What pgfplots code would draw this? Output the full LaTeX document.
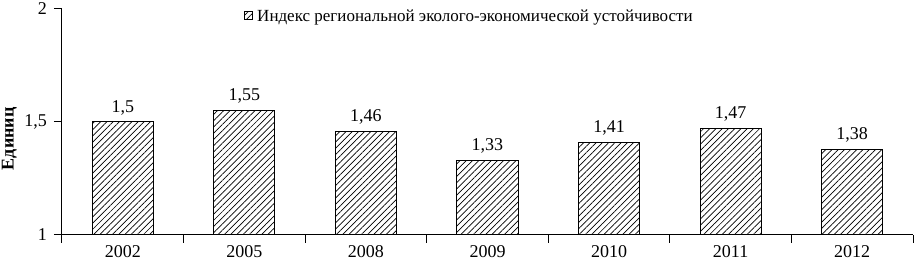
\documentclass[border=0pt]{standalone}
\usepackage{fontspec}
\setmainfont{Liberation Serif}
\usepackage{pgfplots}
\pgfplotsset{compat=1.18}
\usetikzlibrary{patterns.meta}
\begin{document}
\begin{tikzpicture}
\begin{axis}[
  scale only axis, width=425.5pt, height=113pt,
  ybar, bar width=30.5pt,
  xmin=-0.5, xmax=6.5, ymin=1, ymax=2,
  axis x line*=bottom, axis y line*=left,
  xtick={-0.5,0.5,...,6.5},
  x tick label as interval,
  xticklabels={2002,2005,2008,2009,2010,2011,2012},
  ytick={1,1.5,2},
  tick align=outside, major tick length=4pt,
  tick style={black, line width=0.5pt},
  axis line style={line width=0.5pt},
  /pgf/number format/use comma,
  /pgf/number format/assume math mode=true,
  ticklabel style={font=\fontsize{9}{10}\selectfont},
  xticklabel style={yshift=2.5pt},
  ylabel={Единиц},
  ylabel style={font=\bfseries\fontsize{9}{10}\selectfont, at={(axis description cs:-0.062,0.426)}, anchor=center},
  nodes near coords,
  every node near coord/.append style={font=\fontsize{9}{10}\selectfont, /pgf/number format/assume math mode=true},
  area legend,
  legend style={at={(0.48,0.965)}, anchor=center, draw=none, fill=none, font=\fontsize{8.5}{10}\selectfont, inner sep=1pt},
  legend image code/.code={\draw[#1] (0pt,-1.5pt) rectangle (4pt,2.5pt);},
]
\addplot[draw=black, line width=0.5pt, fill=white, postaction={pattern={Lines[angle=45,distance=2.2pt,line width=0.35pt]}, pattern color=black}]
  coordinates {(0,1.5) (1,1.55) (2,1.46) (3,1.33) (4,1.41) (5,1.47) (6,1.38)};
\addlegendentry{Индекс региональной эколого-экономической устойчивости}
\end{axis}
\pgfresetboundingbox
\path (-31pt,-15.5pt) rectangle (426.5pt,117.5pt);
\end{tikzpicture}
\end{document}
